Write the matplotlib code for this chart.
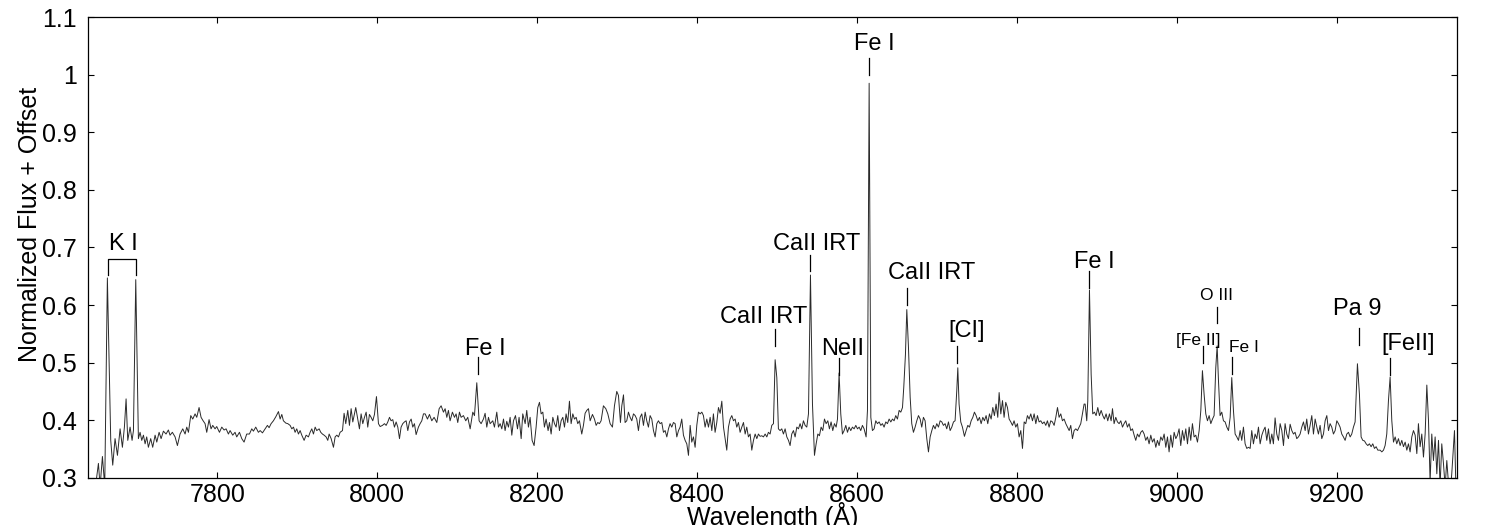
import matplotlib
matplotlib.use("Agg")
import matplotlib.pyplot as plt
import numpy as np

plt.rcParams['font.family'] = ['Liberation Sans', 'DejaVu Sans']

# ---------------- spectrum data (wavelength in Angstrom, normalized flux + offset) -------------
wave_a = [7644.0, 7648.0, 7651.2, 7653.3, 7656.2, 7659.1, 7662.4, 7666.6, 7669.1, 7672.0,
          7675.0, 7678.3, 7681.2, 7683.7, 7685.8, 7687.9, 7690.8, 7693.3, 7695.0, 7697.9,
          7701.2, 7703.3, 7705.4, 7707.5, 7709.6, 7711.6, 7713.7, 7716.6, 7719.1, 7722.1,
          7724.2, 7727.1, 7729.6, 7732.5, 7735.8, 7738.7, 7740.8, 7743.7, 7747.1, 7750.0,
          7753.3, 7756.7, 7759.6, 7761.7, 7763.8, 7766.7, 7769.2, 7772.1, 7774.2, 7777.1,
          7779.6, 7781.7, 7784.6, 7786.7, 7789.6, 7792.1, 7794.2, 7797.1, 7799.2, 7802.6,
          7805.5, 7808.4, 7810.9, 7813.8, 7815.9, 7819.2, 7822.1, 7824.2, 7827.6, 7830.5,
          7833.4, 7836.7, 7840.1, 7843.0, 7845.1, 7848.0, 7851.3]
flux_a = [0.270, 0.290, 0.325, 0.285, 0.337, 0.285, 0.647, 0.365, 0.322, 0.368,
          0.339, 0.385, 0.353, 0.388, 0.437, 0.365, 0.388, 0.365, 0.382, 0.644,
          0.368, 0.379, 0.365, 0.374, 0.359, 0.371, 0.353, 0.368, 0.353, 0.374,
          0.362, 0.379, 0.368, 0.381, 0.376, 0.383, 0.374, 0.379, 0.371, 0.356,
          0.376, 0.385, 0.376, 0.388, 0.379, 0.408, 0.402, 0.411, 0.405, 0.422,
          0.405, 0.400, 0.394, 0.379, 0.401, 0.385, 0.391, 0.385, 0.389, 0.379,
          0.388, 0.383, 0.385, 0.376, 0.382, 0.374, 0.379, 0.371, 0.379, 0.368,
          0.362, 0.376, 0.376, 0.385, 0.381, 0.388, 0.379]

wave_b = [7853.5, 7856.4, 7859.7, 7862.6, 7864.7, 7867.2, 7870.1, 7873.1, 7876.4, 7878.5,
          7880.6, 7882.6, 7885.6, 7888.1, 7891.0, 7893.1, 7895.2, 7897.2, 7899.3, 7901.4,
          7903.5, 7905.6, 7908.5, 7911.0, 7913.9, 7916.0, 7918.1, 7920.2, 7922.3, 7924.3,
          7927.3, 7929.3, 7931.4, 7933.5, 7936.0, 7938.1, 7939.8, 7942.3, 7945.2, 7947.3,
          7949.4, 7951.5, 7953.5, 7956.5, 7958.5, 7960.6, 7963.1, 7965.2, 7967.3, 7969.4,
          7973.1, 7975.6, 7977.7, 7979.8, 7981.9, 7984.0, 7986.1, 7988.1, 7990.2, 7992.3,
          7994.4, 7996.5, 7999.0, 8001.5, 8003.6, 8006.5, 8009.0, 8011.1, 8013.2, 8015.3,
          8017.3, 8019.4, 8021.5, 8023.6, 8025.7, 8027.8, 8029.8, 8031.9, 8034.0, 8036.1,
          8038.2, 8040.3, 8042.4, 8044.4, 8046.5, 8048.6, 8051.5, 8053.6, 8055.7, 8057.8]
flux_b = [0.382, 0.378, 0.385, 0.391, 0.387, 0.394, 0.399, 0.406, 0.415, 0.402,
          0.410, 0.399, 0.395, 0.394, 0.391, 0.385, 0.388, 0.379, 0.385, 0.376,
          0.382, 0.374, 0.365, 0.374, 0.371, 0.379, 0.385, 0.376, 0.388, 0.382,
          0.385, 0.379, 0.376, 0.374, 0.371, 0.365, 0.376, 0.368, 0.353, 0.371,
          0.374, 0.371, 0.379, 0.382, 0.412, 0.394, 0.417, 0.391, 0.420, 0.397,
          0.422, 0.402, 0.385, 0.411, 0.394, 0.405, 0.414, 0.388, 0.410, 0.405,
          0.399, 0.410, 0.441, 0.394, 0.389, 0.391, 0.394, 0.391, 0.397, 0.405,
          0.399, 0.401, 0.388, 0.397, 0.388, 0.368, 0.388, 0.394, 0.397, 0.399,
          0.382, 0.397, 0.402, 0.388, 0.394, 0.375, 0.388, 0.394, 0.399, 0.411]

wave_c = [8059.9, 8062.8, 8065.3, 8068.2, 8071.1, 8074.5, 8077.4, 8079.9, 8082.8, 8084.9,
          8087.0, 8089.0, 8091.1, 8094.0, 8096.6, 8098.6, 8100.7, 8102.8, 8104.9, 8107.8,
          8110.7, 8113.2, 8116.2, 8119.5, 8121.6, 8124.5, 8127.4, 8129.9, 8132.8, 8134.9,
          8137.0, 8139.1, 8141.2, 8144.5, 8146.6, 8149.5, 8151.6, 8153.7, 8155.8, 8157.9,
          8159.9, 8162.0, 8164.1, 8166.2, 8168.3, 8170.4, 8172.9, 8175.4, 8177.4, 8180.0,
          8182.0, 8185.0, 8187.0, 8189.1, 8191.2, 8193.7, 8196.2, 8198.7, 8200.8, 8202.9,
          8205.0, 8207.1, 8209.1, 8211.2, 8213.7, 8215.4, 8217.5, 8219.6, 8221.7, 8223.7,
          8225.8, 8227.9, 8230.0, 8232.1, 8234.2, 8236.2, 8238.3, 8240.4, 8242.5, 8244.6,
          8246.7, 8248.8, 8250.8, 8252.9, 8255.8, 8257.9, 8260.0, 8262.1, 8264.2]
flux_c = [0.411, 0.402, 0.410, 0.399, 0.405, 0.396, 0.420, 0.425, 0.414, 0.420,
          0.405, 0.417, 0.399, 0.414, 0.405, 0.411, 0.396, 0.414, 0.405, 0.408,
          0.399, 0.405, 0.385, 0.414, 0.408, 0.465, 0.399, 0.394, 0.402, 0.412,
          0.388, 0.405, 0.394, 0.399, 0.388, 0.414, 0.388, 0.394, 0.385, 0.402,
          0.382, 0.398, 0.388, 0.405, 0.374, 0.399, 0.408, 0.385, 0.405, 0.368,
          0.411, 0.394, 0.417, 0.388, 0.405, 0.365, 0.356, 0.388, 0.422, 0.431,
          0.411, 0.414, 0.388, 0.402, 0.382, 0.396, 0.376, 0.405, 0.394, 0.388,
          0.408, 0.382, 0.399, 0.405, 0.388, 0.411, 0.396, 0.433, 0.394, 0.411,
          0.402, 0.405, 0.394, 0.399, 0.376, 0.391, 0.412, 0.417, 0.420]

wave_d = [8266.3, 8269.2, 8271.7, 8273.8, 8275.8, 8277.9, 8280.0, 8282.9, 8285.9, 8288.4,
          8291.3, 8294.2, 8296.7, 8299.6, 8301.7, 8304.2, 8305.9, 8308.0, 8310.0, 8312.1,
          8314.2, 8316.3, 8318.4, 8320.5, 8322.6, 8324.6, 8326.7, 8328.8, 8330.9, 8333.0,
          8335.1, 8337.1, 8339.2, 8341.3, 8343.4, 8345.5, 8347.6, 8349.7, 8351.7, 8353.8,
          8355.9, 8358.0, 8360.1, 8362.2, 8364.3, 8366.3, 8368.4, 8370.5, 8372.6, 8374.7,
          8376.8, 8378.8, 8380.9, 8383.0, 8385.1, 8387.2, 8389.3, 8391.4, 8393.4, 8395.5,
          8397.6, 8399.7, 8401.8, 8403.9, 8406.0, 8408.0, 8410.1, 8412.2, 8414.3, 8416.4,
          8418.5, 8420.5, 8422.6, 8424.7, 8426.8, 8428.9, 8431.0, 8433.1, 8435.1, 8437.2,
          8439.3, 8441.4, 8443.5, 8445.6, 8447.7, 8449.7, 8451.8, 8453.9, 8456.0, 8458.1,
          8460.2, 8462.2, 8464.3, 8466.4, 8468.5, 8470.6]
flux_d = [0.399, 0.410, 0.402, 0.391, 0.396, 0.394, 0.399, 0.425, 0.420, 0.411,
          0.394, 0.388, 0.425, 0.450, 0.443, 0.396, 0.425, 0.444, 0.396, 0.399,
          0.414, 0.405, 0.399, 0.411, 0.408, 0.402, 0.382, 0.405, 0.411, 0.391,
          0.414, 0.399, 0.388, 0.408, 0.402, 0.382, 0.371, 0.394, 0.399, 0.394,
          0.396, 0.379, 0.382, 0.371, 0.385, 0.394, 0.388, 0.396, 0.394, 0.371,
          0.382, 0.388, 0.402, 0.374, 0.365, 0.359, 0.339, 0.391, 0.362, 0.371,
          0.353, 0.391, 0.414, 0.411, 0.414, 0.408, 0.388, 0.402, 0.388, 0.405,
          0.382, 0.411, 0.379, 0.396, 0.422, 0.412, 0.433, 0.388, 0.368, 0.348,
          0.388, 0.402, 0.408, 0.399, 0.402, 0.388, 0.396, 0.379, 0.388, 0.396,
          0.376, 0.388, 0.371, 0.376, 0.348, 0.365]

wave_e = [8472.7, 8474.8, 8476.8, 8478.9, 8481.0, 8483.1, 8485.2, 8487.3, 8489.3, 8491.4,
          8493.5, 8495.6, 8497.7, 8499.8, 8501.8, 8503.9, 8506.0, 8508.1, 8510.2, 8512.3,
          8514.4, 8516.4, 8518.5, 8520.6, 8522.7, 8524.8, 8526.9, 8528.9, 8531.0, 8533.1,
          8535.2, 8537.3, 8539.4, 8541.9, 8544.4, 8546.9, 8549.0, 8551.1, 8553.1, 8555.2,
          8557.3, 8559.4, 8561.5, 8563.6, 8565.6, 8567.7, 8569.8, 8571.9, 8574.0, 8575.7,
          8577.7, 8579.8, 8581.9, 8584.0, 8586.1, 8588.2, 8590.2, 8592.3, 8594.4, 8596.5,
          8598.6, 8600.7, 8602.8, 8604.8, 8606.9, 8609.0, 8611.5, 8613.2, 8615.3, 8617.4,
          8619.4, 8621.5, 8623.6, 8625.7, 8627.8, 8629.9, 8631.9, 8634.0, 8636.1, 8638.2,
          8640.3, 8642.4, 8644.5, 8646.5, 8648.6, 8650.7, 8652.8, 8654.9, 8657.0, 8658.6,
          8660.7, 8662.4, 8664.5, 8666.6, 8668.6, 8670.7, 8672.8, 8674.9, 8677.0]
flux_e = [0.376, 0.368, 0.376, 0.372, 0.373, 0.371, 0.376, 0.371, 0.379, 0.376,
          0.391, 0.394, 0.505, 0.474, 0.385, 0.382, 0.385, 0.376, 0.385, 0.371,
          0.365, 0.356, 0.376, 0.382, 0.371, 0.388, 0.385, 0.394, 0.385, 0.399,
          0.391, 0.388, 0.411, 0.652, 0.428, 0.339, 0.359, 0.376, 0.373, 0.388,
          0.382, 0.402, 0.394, 0.399, 0.385, 0.397, 0.382, 0.394, 0.388, 0.402,
          0.482, 0.411, 0.376, 0.382, 0.391, 0.379, 0.388, 0.382, 0.388, 0.385,
          0.391, 0.385, 0.388, 0.382, 0.391, 0.385, 0.371, 0.417, 0.985, 0.405,
          0.382, 0.385, 0.399, 0.394, 0.397, 0.391, 0.394, 0.388, 0.397, 0.394,
          0.402, 0.397, 0.402, 0.399, 0.408, 0.402, 0.417, 0.414, 0.422, 0.457,
          0.514, 0.592, 0.526, 0.440, 0.394, 0.379, 0.388, 0.399, 0.408]

wave_f = [8679.1, 8681.1, 8683.2, 8685.3, 8687.4, 8689.5, 8691.6, 8693.7, 8695.7, 8697.8,
          8699.9, 8702.0, 8704.1, 8706.2, 8708.2, 8710.3, 8712.4, 8714.5, 8716.6, 8718.7,
          8720.8, 8722.8, 8724.9, 8726.2, 8727.8, 8729.9, 8732.0, 8734.5, 8736.6, 8738.7,
          8740.8, 8742.9, 8745.0, 8747.0, 8749.1, 8751.2, 8753.3, 8755.4, 8757.5, 8759.5,
          8761.6, 8763.7, 8765.8, 8767.9, 8770.0, 8772.0, 8774.1, 8776.2, 8777.9, 8780.0,
          8782.1, 8784.1, 8786.2, 8788.3, 8790.4, 8792.5, 8794.6, 8796.6, 8798.7, 8800.8,
          8802.9, 8805.0, 8807.1, 8809.2, 8811.2, 8813.3, 8815.4, 8817.5, 8819.6, 8821.7,
          8823.8, 8825.8, 8827.9, 8830.0, 8832.1, 8834.2, 8836.3, 8838.3, 8840.4, 8842.5,
          8844.6, 8846.7, 8848.8, 8850.9, 8852.9, 8855.0, 8857.1, 8859.2, 8861.3, 8863.4,
          8865.5, 8867.5, 8869.6, 8871.7, 8873.8, 8875.9, 8878.0, 8880.0, 8882.1, 8884.2]
flux_f = [0.402, 0.388, 0.405, 0.399, 0.368, 0.345, 0.371, 0.382, 0.391, 0.385,
          0.394, 0.388, 0.399, 0.397, 0.391, 0.394, 0.385, 0.397, 0.382, 0.388,
          0.397, 0.399, 0.451, 0.491, 0.428, 0.397, 0.388, 0.372, 0.382, 0.391,
          0.388, 0.399, 0.405, 0.414, 0.408, 0.399, 0.405, 0.394, 0.405, 0.399,
          0.408, 0.394, 0.411, 0.402, 0.422, 0.408, 0.428, 0.405, 0.448, 0.411,
          0.434, 0.405, 0.431, 0.422, 0.402, 0.397, 0.391, 0.399, 0.388, 0.394,
          0.371, 0.382, 0.351, 0.397, 0.394, 0.408, 0.402, 0.411, 0.399, 0.411,
          0.394, 0.408, 0.397, 0.399, 0.394, 0.397, 0.391, 0.399, 0.388, 0.399,
          0.397, 0.391, 0.405, 0.422, 0.405, 0.411, 0.399, 0.402, 0.394, 0.388,
          0.382, 0.391, 0.368, 0.382, 0.385, 0.382, 0.388, 0.394, 0.411, 0.428]

wave_g = [8885.5, 8887.5, 8888.8, 8890.9, 8893.0, 8895.0, 8897.1, 8899.2, 8901.3, 8903.4,
          8905.5, 8907.6, 8909.6, 8911.7, 8913.8, 8915.9, 8918.0, 8919.7, 8921.7, 8923.8,
          8925.9, 8928.0, 8930.1, 8932.2, 8934.2, 8936.3, 8938.4, 8940.5, 8942.6, 8944.7,
          8946.8, 8948.8, 8950.9, 8953.0, 8955.1, 8957.2, 8959.3, 8961.3, 8963.4, 8965.5,
          8967.6, 8969.7, 8971.8, 8973.9, 8975.9, 8978.0, 8980.1, 8982.2, 8984.3, 8986.4,
          8988.5, 8990.5, 8992.6, 8994.7, 8996.8, 8998.9, 9001.0, 9003.0, 9005.1, 9007.2,
          9009.3, 9011.4, 9013.5, 9015.6, 9017.6, 9019.7, 9021.8, 9023.9, 9026.0, 9028.1,
          9030.2, 9032.2, 9034.3, 9036.4, 9038.5, 9040.6, 9042.7, 9044.8, 9046.8, 9048.9,
          9050.6, 9052.3, 9054.3, 9056.4, 9058.5, 9060.6, 9062.7, 9064.8, 9066.9, 9068.9,
          9071.0, 9073.1, 9075.2, 9077.3, 9079.4, 9081.4, 9083.5, 9085.6, 9087.7, 9089.8]
flux_g = [0.428, 0.399, 0.434, 0.626, 0.480, 0.411, 0.414, 0.408, 0.422, 0.408,
          0.417, 0.408, 0.402, 0.411, 0.399, 0.411, 0.399, 0.420, 0.394, 0.405,
          0.397, 0.394, 0.399, 0.388, 0.394, 0.399, 0.388, 0.394, 0.382, 0.385,
          0.374, 0.365, 0.376, 0.371, 0.379, 0.382, 0.376, 0.365, 0.371, 0.359,
          0.374, 0.362, 0.368, 0.353, 0.365, 0.356, 0.371, 0.365, 0.376, 0.353,
          0.371, 0.345, 0.374, 0.353, 0.379, 0.368, 0.374, 0.385, 0.356, 0.382,
          0.365, 0.385, 0.359, 0.388, 0.365, 0.394, 0.371, 0.374, 0.362, 0.382,
          0.417, 0.486, 0.445, 0.411, 0.399, 0.408, 0.394, 0.402, 0.408, 0.491,
          0.529, 0.468, 0.408, 0.414, 0.399, 0.397, 0.388, 0.382, 0.405, 0.474,
          0.417, 0.376, 0.371, 0.365, 0.382, 0.365, 0.388, 0.359, 0.351, 0.353]

wave_h = [9091.9, 9093.9, 9096.0, 9098.1, 9100.2, 9102.3, 9104.4, 9106.5, 9108.5, 9110.6,
          9112.7, 9114.8, 9116.9, 9119.0, 9121.0, 9123.1, 9125.2, 9127.3, 9129.4, 9131.5,
          9133.6, 9135.6, 9137.7, 9139.8, 9141.9, 9144.0, 9146.1, 9148.1, 9150.2, 9152.3,
          9154.4, 9156.5, 9158.6, 9160.7, 9162.7, 9164.8, 9166.9, 9169.0, 9171.1, 9173.2,
          9175.3, 9177.3, 9179.4, 9181.5, 9183.6, 9185.7, 9187.8, 9189.9, 9191.9, 9194.0,
          9196.1, 9198.2, 9200.3, 9202.4, 9204.4, 9206.5, 9208.6, 9210.7, 9212.8, 9214.9,
          9217.0, 9219.0, 9221.1, 9223.2, 9226.1, 9228.6, 9230.7, 9232.8, 9234.9, 9237.0,
          9239.1, 9241.1, 9243.2, 9245.3, 9247.4, 9249.5, 9251.6, 9254.5, 9256.6, 9258.7,
          9260.7, 9262.8, 9264.9, 9267.0, 9269.1, 9271.2, 9273.3, 9275.3, 9277.4, 9279.5,
          9281.6, 9283.7, 9285.8, 9287.9, 9289.9, 9292.0, 9294.1, 9296.2, 9298.3, 9300.4,
          9302.4, 9304.5, 9306.6, 9308.7, 9310.8, 9312.9, 9315.0, 9317.0, 9319.1, 9321.2,
          9323.3, 9325.4, 9327.5, 9329.5, 9331.6, 9333.7, 9335.8, 9337.9, 9340.0, 9342.1,
          9344.1, 9346.2, 9347.5, 9349.1]
flux_h = [0.351, 0.382, 0.359, 0.376, 0.368, 0.388, 0.359, 0.374, 0.382, 0.388,
          0.365, 0.385, 0.359, 0.376, 0.359, 0.404, 0.376, 0.365, 0.394, 0.382,
          0.356, 0.394, 0.376, 0.368, 0.393, 0.382, 0.376, 0.379, 0.368, 0.371,
          0.376, 0.388, 0.397, 0.382, 0.402, 0.376, 0.391, 0.408, 0.376, 0.402,
          0.388, 0.376, 0.391, 0.368, 0.376, 0.399, 0.408, 0.382, 0.394, 0.388,
          0.376, 0.382, 0.399, 0.394, 0.388, 0.376, 0.371, 0.365, 0.376, 0.379,
          0.371, 0.376, 0.388, 0.397, 0.498, 0.445, 0.371, 0.365, 0.364, 0.359,
          0.356, 0.359, 0.354, 0.359, 0.351, 0.354, 0.348, 0.348, 0.345, 0.348,
          0.356, 0.376, 0.434, 0.475, 0.399, 0.362, 0.371, 0.359, 0.368, 0.356,
          0.365, 0.354, 0.362, 0.348, 0.359, 0.345, 0.371, 0.382, 0.374, 0.342,
          0.394, 0.354, 0.376, 0.336, 0.376, 0.461, 0.399, 0.293, 0.376, 0.330,
          0.371, 0.307, 0.365, 0.285, 0.359, 0.325, 0.285, 0.330, 0.290, 0.273,
          0.307, 0.354, 0.382, 0.293]

# ---------------- line identifications -------------
line_labels = ["Fe I", "CaII IRT", "CaII IRT", "NeII", "Fe I", "CaII IRT", "[CI]",
               "Fe I", "[Fe II]", "O III", "Fe I", "Pa 9", "[FeII]"]
line_waves = [8125.7, 8497.7, 8541.9, 8577.7, 8615.7, 8662.4, 8725.8,
              8890.9, 9032.7, 9050.6, 9069.0, 9228.3, 9267.0]
ki_label = "K I"
ki_waves = [7663.6, 7697.9]

x_ticks = [7800, 8000, 8200, 8400, 8600, 8800, 9000, 9200]
y_ticks = [0.3, 0.4, 0.5, 0.6, 0.7, 0.8, 0.9, 1.0, 1.1]
y_tick_labels = ["0.3", "0.4", "0.5", "0.6", "0.7", "0.8", "0.9", "1", "1.1"]

# ---------------- layout (positions of annotation text / markers) -------------
text_x = [8134.9, 8483.7, 8550.2, 8582.1, 8621.5, 8692.9, 8737.2,
          8896.7, 9026.8, 9050.0, 9084.4, 9226.4, 9288.9]
text_base = [0.513, 0.568, 0.695, 0.513, 1.043, 0.646, 0.5436,
             0.664, 0.531, 0.609, 0.519, 0.583, 0.522]
mark_lo = [0.480, 0.529, 0.659, 0.478, 0.999, 0.600, 0.499,
           0.630, 0.499, 0.568, 0.481, 0.531, 0.478]
mark_hi = [0.510, 0.558, 0.687, 0.508, 1.028, 0.630, 0.529,
           0.659, 0.528, 0.597, 0.510, 0.560, 0.508]
text_size = [17, 17, 17, 17, 17, 17, 17, 17, 12.5, 12.5, 12.5, 17, 17]

wavelength = np.concatenate([wave_a, wave_b, wave_c, wave_d, wave_e, wave_f, wave_g, wave_h])
flux = np.concatenate([flux_a, flux_b, flux_c, flux_d, flux_e, flux_f, flux_g, flux_h])

fig = plt.figure(figsize=(15, 5.25), dpi=100)
fig.patch.set_facecolor("white")
ax = fig.add_axes([0.0589, 0.0899, 0.9123, 0.8777])

ax.plot(wavelength, flux, color="#2a2a2a", lw=0.7)

ax.set_xlim(7638.6, 9350.4)
ax.set_ylim(0.3, 1.1)
ax.set_xticks(x_ticks)
ax.set_xticklabels([str(t) for t in x_ticks])
ax.set_yticks(y_ticks)
ax.set_yticklabels(y_tick_labels)
ax.tick_params(axis="both", direction="in", top=True, right=True,
               length=4.3, width=0.8, labelsize=18, colors="black")
ax.tick_params(axis="x", pad=4)
ax.tick_params(axis="y", pad=8)
for sp in ax.spines.values():
    sp.set_linewidth(0.9)
    sp.set_color("black")

ax.set_ylabel("Normalized Flux + Offset", fontsize=18)
ax.yaxis.set_label_coords(-0.034, 0.549)
ax.set_xlabel("Wavelength (Å)", fontsize=18)
ax.xaxis.set_label_coords(0.5, -0.1025)
ax.xaxis.label.set_va("baseline")

# line labels with short markers
for lab, lw_, tx, tb, lo, hi, fs in zip(line_labels, line_waves, text_x, text_base,
                                        mark_lo, mark_hi, text_size):
    ax.plot([lw_, lw_], [lo, hi], color="black", lw=0.9)
    ax.text(tx, tb, lab, ha="center", va="baseline", fontsize=fs, color="black")

# K I doublet bracket
ax.plot([ki_waves[0], ki_waves[0], ki_waves[1], ki_waves[1]],
        [0.652, 0.680, 0.680, 0.652], color="black", lw=0.9)
ax.text(7682.0, 0.695, ki_label, ha="center", va="baseline", fontsize=17, color="black")

fig.savefig("out.png", dpi=100, facecolor="white")
